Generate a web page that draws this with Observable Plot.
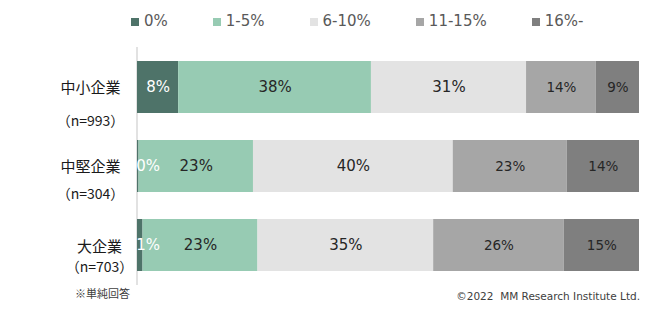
<!DOCTYPE html>
<html>
<head>
<meta charset="utf-8">
<script src="https://cdn.jsdelivr.net/npm/d3@7"></script>
<script src="https://cdn.jsdelivr.net/npm/@observablehq/plot@0.6"></script>
<style>
  html, body { margin: 0; padding: 0; background: #fff; }
  #wrap { position: relative; width: 665px; height: 316px; overflow: hidden; font-family: "DejaVu Sans", sans-serif; }
  #chart { position: absolute; left: 0; top: 0; }
  #legend { position: absolute; left: 131px; top: 12px; display: flex; align-items: center; font-size: 15px; color: #595959; line-height: 19px; }
  .item { display: flex; align-items: center; margin-right: 45px; }
  .sw { width: 8px; height: 8px; margin-right: 5px; }
  #note { position: absolute; left: 75px; top: 286px; font-family: "Noto Sans CJK JP", sans-serif; font-size: 11px; color: #404040; line-height: 14px; }
  #credit { position: absolute; right: 25px; top: 289px; font-size: 10.5px; color: #404040; white-space: pre; line-height: 14px; }
</style>
</head>
<body>
<div id="wrap">
  <div id="chart"></div>
  <div id="legend"></div>
  <div id="note"></div>
  <div id="credit"></div>
</div>
<script>
// ---- data ----
const categories = ["中小企業", "中堅企業", "大企業"];
const sampleSizes = ["（n=993）", "（n=304）", "（n=703）"];
const bins = ["0%", "1-5%", "6-10%", "11-15%", "16%-"];
const share0 = [8.2, 0.3, 1.1];
const share1to5 = [38.4, 22.8, 22.9];
const share6to10 = [30.9, 39.8, 35.0];
const share11to15 = [13.9, 22.7, 26.0];
const share16plus = [8.6, 14.4, 15.0];
const noteText = "※単純回答";
const creditText = "©2022  MM Research Institute Ltd.";

// ---- styles / layout ----
const colors = ["#4e7369", "#97cbb3", "#e3e3e3", "#a6a6a6", "#7f7f7f"];
const labelDx = [-47, -47, -38];
const nameDy = [1, 1, 2];
const sizeDy = [34, 28, 22];

const series = [share0, share1to5, share6to10, share11to15, share16plus];
const rows = [];
categories.forEach((c, i) => {
  let start = 0;
  bins.forEach((b, j) => {
    const v = series[j][i];
    const mid = start + v / 2;
    rows.push({company: c, bin: b, value: v, labelX: Math.max(mid, 2.1), small: j >= 3, first: j === 0});
    start += v;
  });
});

const textFont = "DejaVu Sans, sans-serif";

const marks = [
  Plot.ruleX([0], {stroke: "#d9d9d9", strokeWidth: 1.5, dx: -0.5}),
  Plot.barX(rows, {x: "value", y: "company", fill: "bin", order: null}),
  Plot.text(rows.filter(d => !d.small), {
    x: "labelX", y: "company", text: d => Math.round(d.value) + "%",
    fill: d => d.first ? "#ffffff" : "#262626", fontSize: 15, fontFamily: textFont
  }),
  Plot.text(rows.filter(d => d.small), {
    x: "labelX", y: "company", text: d => Math.round(d.value) + "%",
    fill: "#262626", fontSize: 13.5, fontFamily: textFont
  })
];
categories.forEach((c, i) => {
  marks.push(Plot.text([c], {y: d => d, frameAnchor: "left", dx: labelDx[i], dy: nameDy[i],
    textAnchor: "middle", fontSize: 15, fill: "#1a1a1a", fontFamily: "Noto Sans CJK JP, sans-serif"}));
  marks.push(Plot.text([c], {y: d => d, text: () => sampleSizes[i], frameAnchor: "left", dx: labelDx[i], dy: sizeDy[i],
    textAnchor: "middle", fontSize: 14, fill: "#1a1a1a", fontFamily: "Noto Sans CJK JP, sans-serif"}));
});

const chart = Plot.plot({
  width: 665,
  height: 316,
  marginLeft: 137,
  marginRight: 26,
  marginTop: 47,
  marginBottom: 31,
  style: {background: "transparent", overflow: "visible"},
  x: {domain: [0, 100], axis: null},
  y: {domain: categories, axis: null, paddingInner: 0.34, paddingOuter: 0.17},
  color: {domain: bins, range: colors},
  marks
});
document.getElementById("chart").appendChild(chart);

const legend = document.getElementById("legend");
bins.forEach((b, j) => {
  const it = document.createElement("div");
  it.className = "item";
  const sw = document.createElement("span");
  sw.className = "sw";
  sw.style.background = colors[j];
  const t = document.createElement("span");
  t.textContent = b;
  it.appendChild(sw); it.appendChild(t);
  legend.appendChild(it);
});
document.getElementById("note").textContent = noteText;
document.getElementById("credit").textContent = creditText;
</script>
</body>
</html>
